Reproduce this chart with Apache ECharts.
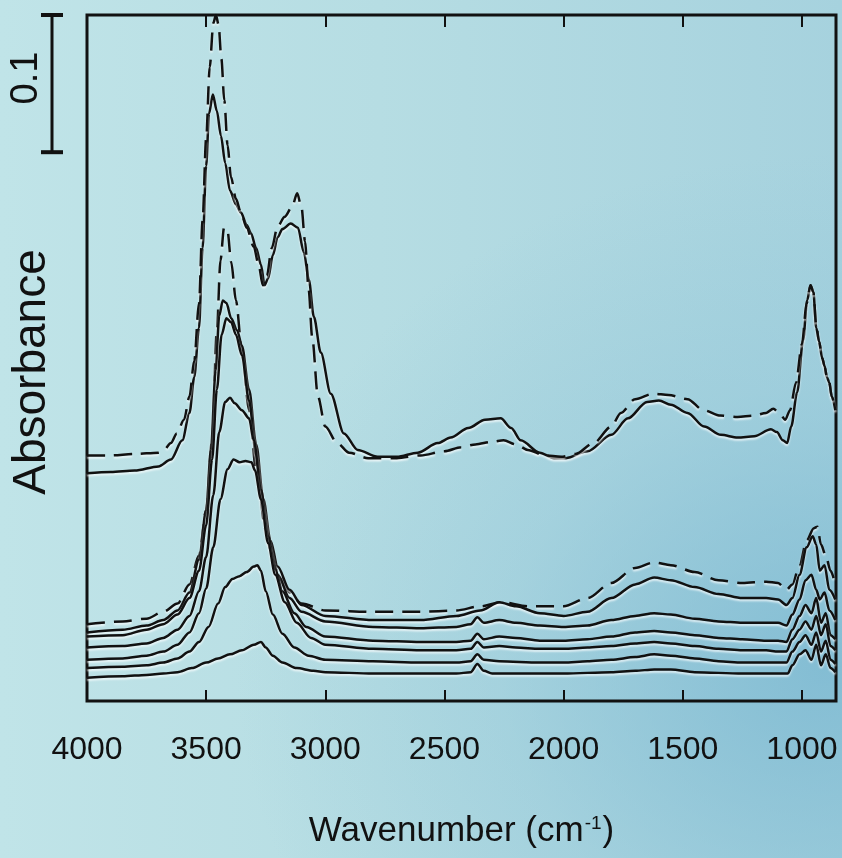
<!DOCTYPE html>
<html>
<head>
<meta charset="utf-8">
<script src="https://cdn.jsdelivr.net/npm/echarts@6/dist/echarts.min.js"></script>
<style>
html, body { margin: 0; padding: 0; }
#spectraChart {
	width: 842px;
	height: 858px;
	background:
		radial-gradient(ellipse 70% 60% at 98% 78%, rgba(120, 182, 208, 0.75) 0%, rgba(140, 195, 215, 0.35) 55%, rgba(180, 222, 228, 0) 100%),
		linear-gradient(to right, #c0e4e8 0%, #b6dde3 45%, #a6d2de 100%);
}
</style>
</head>
<body>
<div id="spectraChart"></div>
<script>
// wavenumber (cm-1) / absorbance pairs
var xTicks = [4000, 3500, 3000, 2500, 2000, 1500, 1000];
var scaleBar = [0.4, 0.5];

var upperSolid = [
	[4000, 0.166], [3900, 0.167], [3800, 0.168], [3700, 0.171], [3648, 0.176], [3600, 0.19], [3570, 0.21], [3550, 0.236],
	[3530, 0.272], [3515, 0.33], [3500, 0.39], [3488, 0.428], [3472, 0.442], [3455, 0.43], [3438, 0.412], [3420, 0.392],
	[3400, 0.372], [3375, 0.362], [3354, 0.356], [3330, 0.347], [3312, 0.341], [3290, 0.33], [3270, 0.318], [3255, 0.303],
	[3240, 0.308], [3220, 0.325], [3200, 0.338], [3180, 0.344], [3145, 0.348], [3115, 0.345], [3090, 0.327], [3069, 0.307],
	[3048, 0.28], [3019, 0.254], [2977, 0.224], [2922, 0.195], [2864, 0.183], [2780, 0.178], [2700, 0.178], [2612, 0.181],
	[2528, 0.188], [2474, 0.192], [2400, 0.199], [2330, 0.205], [2264, 0.206], [2220, 0.199], [2180, 0.19], [2100, 0.181],
	[2040, 0.177], [1990, 0.177], [1900, 0.182], [1800, 0.194], [1730, 0.206], [1650, 0.218], [1600, 0.219], [1550, 0.216],
	[1480, 0.21], [1410, 0.2], [1340, 0.194], [1270, 0.192], [1200, 0.193], [1130, 0.198], [1105, 0.196], [1080, 0.19],
	[1062, 0.188], [1045, 0.2], [1020, 0.225], [995, 0.263], [978, 0.292], [964, 0.303], [952, 0.298], [940, 0.272],
	[928, 0.262], [915, 0.25], [905, 0.244], [895, 0.236], [885, 0.232], [875, 0.222], [860, 0.212]
];
var upperDashed = [
	[4000, 0.179], [3900, 0.179], [3800, 0.18], [3700, 0.181], [3677, 0.183], [3648, 0.188], [3623, 0.195], [3593, 0.205],
	[3570, 0.222], [3550, 0.248], [3530, 0.29], [3515, 0.35], [3500, 0.41], [3485, 0.462], [3470, 0.494], [3459, 0.5],
	[3448, 0.493], [3436, 0.468], [3424, 0.438], [3410, 0.405], [3396, 0.382], [3375, 0.366], [3354, 0.356], [3330, 0.345],
	[3300, 0.331], [3280, 0.318], [3262, 0.303], [3245, 0.31], [3225, 0.33], [3200, 0.346], [3170, 0.353], [3140, 0.36],
	[3118, 0.37], [3100, 0.36], [3085, 0.335], [3070, 0.3], [3055, 0.265], [3031, 0.222], [3000, 0.2], [2950, 0.188],
	[2900, 0.181], [2820, 0.177], [2700, 0.177], [2600, 0.179], [2500, 0.182], [2430, 0.185], [2370, 0.187], [2300, 0.189],
	[2252, 0.19], [2200, 0.187], [2150, 0.183], [2080, 0.179], [2010, 0.178], [1950, 0.18], [1874, 0.188], [1800, 0.2],
	[1760, 0.21], [1700, 0.22], [1623, 0.224], [1560, 0.223], [1480, 0.22], [1413, 0.212], [1342, 0.208], [1270, 0.207],
	[1203, 0.208], [1150, 0.21], [1120, 0.213], [1095, 0.21], [1070, 0.205], [1050, 0.212], [1025, 0.232], [1000, 0.26],
	[980, 0.29], [964, 0.303], [952, 0.298], [940, 0.274], [928, 0.262], [915, 0.25], [905, 0.244], [895, 0.236],
	[885, 0.232], [875, 0.222], [860, 0.212]
];
var lowerDashed = [
	[4000, 0.056], [3850, 0.058], [3750, 0.06], [3680, 0.065], [3620, 0.071], [3570, 0.085], [3530, 0.106], [3500, 0.139],
	[3475, 0.19], [3455, 0.27], [3440, 0.321], [3425, 0.345], [3410, 0.342], [3395, 0.32], [3375, 0.292], [3350, 0.256],
	[3320, 0.212], [3290, 0.168], [3250, 0.125], [3200, 0.095], [3150, 0.079], [3100, 0.071], [3000, 0.066], [2800, 0.065],
	[2600, 0.065], [2450, 0.066], [2350, 0.069], [2260, 0.072], [2150, 0.069], [2000, 0.069], [1900, 0.075], [1800, 0.086],
	[1700, 0.097], [1620, 0.101], [1550, 0.099], [1450, 0.094], [1350, 0.088], [1250, 0.086], [1150, 0.087], [1100, 0.086],
	[1065, 0.081], [1040, 0.085], [1010, 0.099], [980, 0.117], [950, 0.126], [935, 0.127], [920, 0.114], [900, 0.106],
	[880, 0.095], [860, 0.085]
];
var lower1 = [
	[4000, 0.05], [3850, 0.052], [3750, 0.055], [3680, 0.059], [3620, 0.066], [3570, 0.079], [3530, 0.103], [3500, 0.139],
	[3480, 0.183], [3460, 0.241], [3445, 0.281], [3430, 0.292], [3415, 0.29], [3395, 0.279], [3370, 0.27], [3350, 0.259],
	[3320, 0.227], [3290, 0.187], [3260, 0.147], [3230, 0.117], [3200, 0.098], [3150, 0.081], [3100, 0.07], [3000, 0.062],
	[2800, 0.059], [2600, 0.059], [2450, 0.062], [2350, 0.066], [2270, 0.072], [2200, 0.069], [2100, 0.064], [2000, 0.062],
	[1900, 0.065], [1800, 0.075], [1700, 0.085], [1620, 0.09], [1550, 0.088], [1450, 0.083], [1350, 0.078], [1250, 0.075],
	[1150, 0.075], [1100, 0.074], [1065, 0.07], [1040, 0.075], [1010, 0.092], [980, 0.112], [955, 0.12], [940, 0.114],
	[925, 0.095], [905, 0.099], [885, 0.081], [860, 0.074]
];
var lower2 = [
	[4000, 0.047], [3850, 0.048], [3750, 0.052], [3680, 0.056], [3620, 0.063], [3570, 0.075], [3530, 0.095], [3500, 0.128],
	[3475, 0.176], [3455, 0.227], [3435, 0.267], [3415, 0.279], [3395, 0.276], [3375, 0.267], [3350, 0.252], [3320, 0.219],
	[3290, 0.179], [3260, 0.139], [3230, 0.11], [3200, 0.092], [3150, 0.075], [3100, 0.065], [3000, 0.058], [2800, 0.054],
	[2600, 0.053], [2450, 0.054], [2390, 0.056], [2362, 0.061], [2335, 0.057], [2270, 0.059], [2200, 0.057], [2100, 0.055],
	[2000, 0.054], [1900, 0.055], [1800, 0.059], [1700, 0.062], [1620, 0.064], [1550, 0.063], [1450, 0.06], [1350, 0.058],
	[1250, 0.057], [1150, 0.057], [1100, 0.057], [1065, 0.055], [1040, 0.063], [1010, 0.074], [985, 0.088], [960, 0.092],
	[940, 0.081], [925, 0.074], [905, 0.079], [885, 0.066], [860, 0.059]
];
var lower3 = [
	[4000, 0.039], [3850, 0.04], [3750, 0.042], [3680, 0.046], [3620, 0.052], [3570, 0.062], [3530, 0.08], [3500, 0.105],
	[3470, 0.15], [3445, 0.196], [3420, 0.218], [3400, 0.221], [3380, 0.217], [3350, 0.212], [3320, 0.206], [3300, 0.19],
	[3270, 0.154], [3240, 0.12], [3210, 0.096], [3180, 0.08], [3130, 0.064], [3080, 0.054], [3000, 0.047], [2800, 0.044],
	[2600, 0.043], [2450, 0.043], [2390, 0.044], [2362, 0.049], [2335, 0.045], [2270, 0.047], [2200, 0.046], [2100, 0.044],
	[2000, 0.044], [1900, 0.045], [1800, 0.047], [1700, 0.05], [1620, 0.051], [1550, 0.05], [1450, 0.048], [1350, 0.046],
	[1250, 0.045], [1150, 0.044], [1100, 0.044], [1065, 0.043], [1040, 0.052], [1010, 0.062], [985, 0.07], [960, 0.064],
	[940, 0.075], [920, 0.057], [900, 0.064], [880, 0.048], [860, 0.045]
];
var lower4 = [
	[4000, 0.03], [3850, 0.031], [3750, 0.033], [3680, 0.036], [3620, 0.041], [3570, 0.05], [3530, 0.064], [3500, 0.082],
	[3470, 0.112], [3440, 0.147], [3410, 0.169], [3385, 0.176], [3360, 0.174], [3335, 0.175], [3310, 0.174], [3295, 0.168],
	[3270, 0.147], [3240, 0.115], [3210, 0.092], [3170, 0.072], [3120, 0.057], [3060, 0.046], [3000, 0.041], [2800, 0.038],
	[2600, 0.037], [2450, 0.037], [2390, 0.038], [2362, 0.043], [2335, 0.039], [2270, 0.04], [2200, 0.039], [2100, 0.038],
	[2000, 0.038], [1900, 0.039], [1800, 0.04], [1700, 0.042], [1620, 0.043], [1550, 0.042], [1450, 0.04], [1350, 0.038],
	[1250, 0.037], [1150, 0.037], [1100, 0.036], [1065, 0.036], [1040, 0.045], [1010, 0.052], [985, 0.058], [960, 0.052],
	[940, 0.062], [920, 0.048], [900, 0.056], [880, 0.04], [860, 0.037]
];
var lower5 = [
	[4000, 0.024], [3850, 0.025], [3750, 0.026], [3680, 0.028], [3620, 0.031], [3570, 0.036], [3530, 0.043], [3490, 0.054],
	[3450, 0.071], [3420, 0.083], [3390, 0.089], [3360, 0.091], [3330, 0.094], [3300, 0.098], [3285, 0.099], [3270, 0.095],
	[3250, 0.08], [3220, 0.063], [3180, 0.049], [3130, 0.039], [3070, 0.033], [3000, 0.03], [2800, 0.029], [2600, 0.028],
	[2450, 0.028], [2390, 0.029], [2362, 0.034], [2335, 0.03], [2270, 0.029], [2100, 0.028], [2000, 0.028], [1900, 0.029],
	[1800, 0.03], [1700, 0.032], [1620, 0.034], [1550, 0.033], [1450, 0.031], [1350, 0.029], [1250, 0.028], [1150, 0.028],
	[1100, 0.028], [1065, 0.028], [1040, 0.036], [1010, 0.043], [985, 0.048], [960, 0.041], [940, 0.05], [920, 0.036],
	[900, 0.044], [880, 0.03], [860, 0.027]
];
var lower6 = [
	[4000, 0.017], [3850, 0.018], [3750, 0.019], [3680, 0.02], [3620, 0.021], [3560, 0.024], [3500, 0.028], [3450, 0.031],
	[3400, 0.034], [3350, 0.037], [3300, 0.041], [3270, 0.043], [3250, 0.039], [3220, 0.033], [3180, 0.028], [3120, 0.024],
	[3050, 0.022], [3000, 0.021], [2800, 0.02], [2600, 0.02], [2450, 0.02], [2390, 0.021], [2362, 0.027], [2335, 0.022],
	[2300, 0.02], [2100, 0.02], [2000, 0.02], [1800, 0.021], [1700, 0.022], [1620, 0.023], [1550, 0.023], [1450, 0.021],
	[1250, 0.02], [1100, 0.02], [1060, 0.02], [1040, 0.026], [1010, 0.034], [985, 0.037], [960, 0.03], [940, 0.041],
	[920, 0.026], [900, 0.034], [880, 0.024], [860, 0.021]
];

var spectraChart = echarts.init(document.getElementById("spectraChart"));

function spectrum(data, dashed) {
	return {
		type: "line",
		xAxisIndex: 0,
		yAxisIndex: 0,
		data: data,
		showSymbol: false,
		smooth: 0.3,
		smoothMonotone: "x",
		silent: true,
		lineStyle: {
			color: "#111",
			width: 2.5,
			type: dashed ? [18, 9] : "solid",
			shadowColor: "rgba(255,255,255,0.7)",
			shadowBlur: 2,
			shadowOffsetY: 2,
		},
	};
}

var font = "Liberation Sans";
var option = {
	animation: false,
	backgroundColor: "transparent",
	grid: [
		{ left: 87, right: 6, top: 15, bottom: 157, show: true, borderColor: "#111", borderWidth: 3, containLabel: false, outerBoundsMode: "none" },
		{ left: 40, width: 24, top: 15, bottom: 157, containLabel: false, outerBoundsMode: "none" },
	],
	xAxis: [
		{
			type: "value",
			gridIndex: 0,
			position: "bottom",
			inverse: true,
			min: 857,
			max: 4000,
			name: "Wavenumber (cm{sup|-1})",
			nameLocation: "middle",
			nameGap: 113,
			nameTextStyle: {
				fontFamily: font,
				fontSize: 35,
				color: "#111",
				rich: {
					sup: { fontFamily: font, fontSize: 19, color: "#111", verticalAlign: "top", padding: [0, 1, 16, 1] },
				},
			},
			axisLine: { show: false },
			axisTick: { show: true, inside: true, length: 11, customValues: xTicks, lineStyle: { color: "#111", width: 2 } },
			axisLabel: {
				customValues: xTicks,
				formatter: function (v) { return String(v); },
				fontFamily: font,
				fontSize: 32,
				color: "#111",
				margin: 33,
			},
			splitLine: { show: false },
		},
		{
			type: "value",
			gridIndex: 0,
			position: "top",
			inverse: true,
			min: 857,
			max: 4000,
			axisLine: { show: false },
			axisTick: { show: true, inside: true, length: 12, customValues: xTicks, lineStyle: { color: "#111", width: 2 } },
			axisLabel: { show: false },
			splitLine: { show: false },
		},
		{ type: "value", gridIndex: 1, min: -1, max: 1, show: false },
	],
	yAxis: [
		{
			type: "value",
			gridIndex: 0,
			min: 0,
			max: 0.5,
			name: "Absorbance",
			nameLocation: "middle",
			nameGap: 32,
			nameTextStyle: { fontFamily: font, fontSize: 46, color: "#111", padding: [0, 28, 0, 0] },
			axisLine: { show: false },
			axisTick: { show: false },
			axisLabel: { show: false },
			splitLine: { show: false },
		},
		{ type: "value", gridIndex: 1, min: 0, max: 0.5, show: false },
	],
	graphic: [
		{
			type: "text",
			x: 27,
			y: 78,
			rotation: Math.PI / 2,
			style: { text: "0.1", fontFamily: font, fontSize: 38, fill: "#111", align: "center", verticalAlign: "middle" },
		},
	],
	series: [
		spectrum(upperSolid, false),
		spectrum(upperDashed, true),
		spectrum(lowerDashed, true),
		spectrum(lower1, false),
		spectrum(lower2, false),
		spectrum(lower3, false),
		spectrum(lower4, false),
		spectrum(lower5, false),
		spectrum(lower6, false),
		{
			// 0.1 absorbance scale bar
			type: "line",
			xAxisIndex: 2,
			yAxisIndex: 1,
			data: scaleBar.map(function (v) { return [0, v]; }),
			symbol: "rect",
			symbolSize: [22, 4],
			showSymbol: true,
			silent: true,
			itemStyle: { color: "#111" },
			lineStyle: { color: "#111", width: 3 },
		},
	],
};
spectraChart.setOption(option, true);
</script>
</body>
</html>
